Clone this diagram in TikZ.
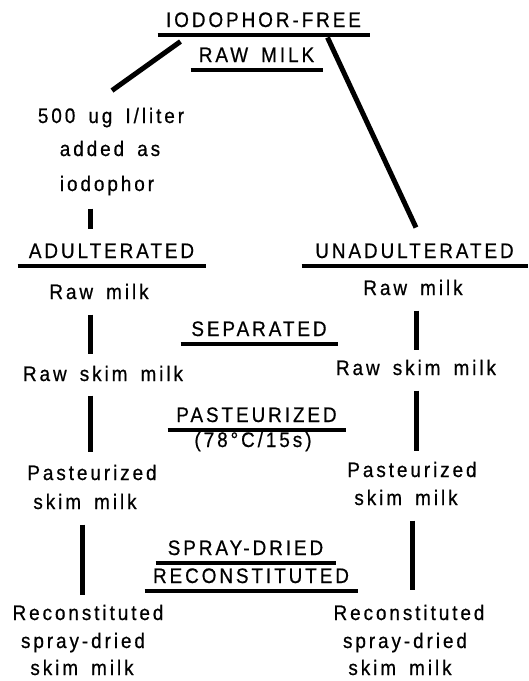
\documentclass[tikz,border=0pt]{standalone}
\usepackage{fontspec}
\setmainfont{Liberation Sans}[LetterSpace=14,FakeStretch=0.9,FakeBold=0.6,WordSpace=1.6]
\usetikzlibrary{positioning}
\begin{document}
\begin{tikzpicture}[x=1pt, y=-1pt, line width=5pt, text node/.style={anchor=base,inner sep=0pt,text height=15pt,text depth=4pt,font=\fontsize{21pt}{24pt}\selectfont}, head node/.style={text node,text depth=5.5pt}]
\useasboundingbox (0,0) rectangle (529,681);
\coordinate (colA) at (90,0);
\coordinate (colA2) at (82,0);
\coordinate (colB) at (416,0);
\coordinate (colB2) at (412,0);
\begin{scope}[every node/.style={head node}]
\node[minimum width=207pt] (free) at (263.5,27) {IODOPHOR-FREE};
\node[minimum width=127pt] (raw) at (256.5,62) {RAW MILK};
\node[minimum width=183pt] (adul) at (111.5,258) {ADULTERATED};
\node[minimum width=221pt] (unadul) at (414.5,258) {UNADULTERATED};
\node[minimum width=152pt] (sep) at (259,336) {SEPARATED};
\node[minimum width=173pt] (past) at (256.5,422) {PASTEURIZED};
\node[minimum width=175pt] (spray) at (245.5,555) {SPRAY-DRIED};
\node[minimum width=208pt] (recon) at (251,583) {RECONSTITUTED};
\end{scope}
\begin{scope}[every node/.style={text node}]
\node (temp) at (253,447) {(78°C/15s)};
\node (dose1) at (111,123) {500 ug I/liter};
\node (dose2) at (110,156) {added as};
\node (dose3) at (107,191) {iodophor};
\node (rawA) at (99,299) {Raw milk};
\node (skimA) at (103,381) {Raw skim milk};
\node (pastA) at (92,480) {Pasteurized};
\node (pastA2) at (85,509) {skim milk};
\node (reconA) at (88,620) {Reconstituted};
\node (reconA2) at (83,648) {spray-dried};
\node (reconA3) at (82,675) {skim milk};
\node (rawB) at (413,295) {Raw milk};
\node (skimB) at (416,375) {Raw skim milk};
\node (pastB) at (412,477) {Pasteurized};
\node (pastB2) at (406,505) {skim milk};
\node (reconB) at (409,620) {Reconstituted};
\node (reconB2) at (405,648) {spray-dried};
\node (reconB3) at (400,675) {skim milk};
\end{scope}
% underlines of the headings
\begin{scope}[line width=4pt]
\draw (free.south west) -- (free.south east);
\draw (raw.south west) -- (raw.south east);
\draw (adul.south west) -- (adul.south east);
\draw (unadul.south west) -- (unadul.south east);
\draw (sep.south west) -- (sep.south east);
\draw (past.south west) -- (past.south east);
\draw (spray.south west) -- (spray.south east);
\draw (recon.south west) -- (recon.south east);
\end{scope}
\begin{scope}[every edge/.style={draw=black,line width=5pt}]
\draw ([shift={(-10pt,3pt)}]raw.north west) edge ([shift={(1pt,15pt)}]dose1.north);
\draw ([shift={(5pt,7pt)}]raw.north east) edge ([yshift=13pt]unadul.north -| colB);
\draw (dose3.south -| colA) edge[shorten <=11pt, shorten >=12pt] (adul.north -| colA);
\draw (rawA.south -| colA) edge[shorten <=9pt, shorten >=10pt] (skimA.north -| colA);
\draw (skimA.south -| colA) edge[shorten <=8pt, shorten >=11pt] (pastA.north -| colA);
\draw (pastA2.south -| colA2) edge[shorten <=9pt, shorten >=8pt] (reconA.north -| colA2);
\draw (rawB.south -| colB) edge[shorten <=9pt, shorten >=8pt] (skimB.north -| colB);
\draw (skimB.south -| colB) edge[shorten <=9pt, shorten >=9pt] (pastB.north -| colB);
\draw (pastB2.south -| colB2) edge[shorten <=9pt, shorten >=13pt] (reconB.north -| colB2);
\end{scope}
\end{tikzpicture}
\end{document}
